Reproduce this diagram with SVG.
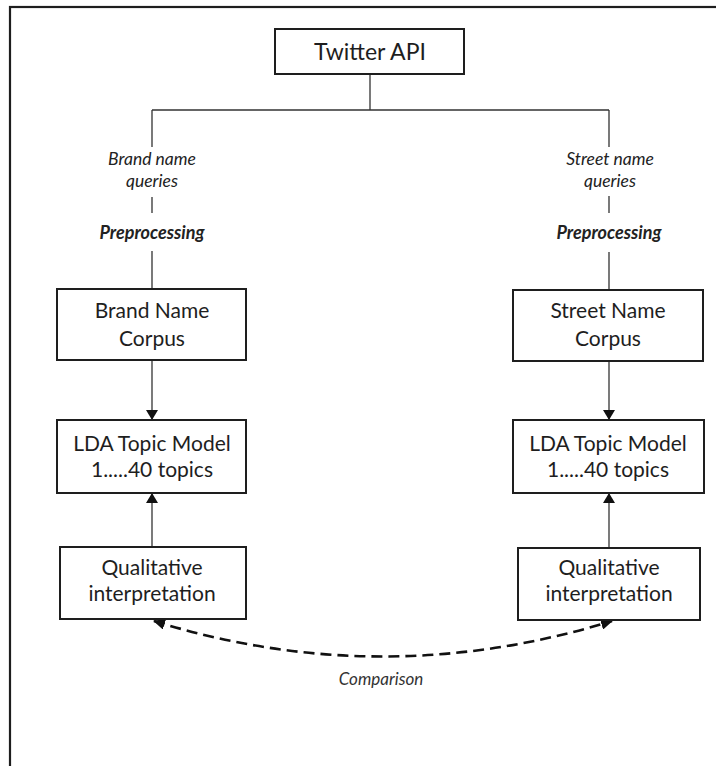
<svg xmlns="http://www.w3.org/2000/svg" width="716" height="766" viewBox="0 0 716 766">
<defs>
<style>
.box{fill:#fff;stroke:#1e1e1e;stroke-width:2}
.t{font-family:Lato,"Open Sans","Liberation Sans",sans-serif;font-size:21px;fill:#1e1e1e;text-anchor:middle}
.big{font-size:23px}
.lab{font-family:Lato,"Open Sans","Liberation Sans",sans-serif;font-size:17.5px;font-style:italic;fill:#222;text-anchor:middle}
.cmp{font-size:17px;fill:#333}
.bold{font-weight:bold;font-size:18px}
.ln{stroke:#333;stroke-width:1.3;fill:none}
.dash{stroke:#111;stroke-width:2.6;fill:none;stroke-dasharray:11 6}
</style>
<marker id="arr" viewBox="0 0 10 12" refX="10" refY="6" markerWidth="10" markerHeight="12" markerUnits="userSpaceOnUse" orient="auto-start-reverse">
<path d="M0,0 L10,6 L0,12 z" fill="#111"/>
</marker>
<marker id="arr2" viewBox="0 0 12 11" refX="11" refY="5.5" markerWidth="12" markerHeight="11" markerUnits="userSpaceOnUse" orient="auto-start-reverse">
<path d="M0,0 L12,5.5 L0,11 z" fill="#111"/>
</marker>
</defs>
<rect width="716" height="766" fill="#fff"/>
<rect x="10" y="7" width="720" height="775" fill="none" stroke="#1e1e1e" stroke-width="2.2"/>

<g id="connectors">
<path class="ln" d="M370,74 V110 M152,110 H609 M152,110 V147 M152,197 V213 M152,251 V289 M609,110 V147 M609,196 V213 M609,252 V290"/>
<line class="ln" x1="152" y1="360" x2="152" y2="420" marker-end="url(#arr)"/>
<line class="ln" x1="609" y1="361" x2="609" y2="420" marker-end="url(#arr)"/>
<line class="ln" x1="152" y1="547" x2="152" y2="493" marker-end="url(#arr)"/>
<line class="ln" x1="609" y1="548" x2="609" y2="493" marker-end="url(#arr)"/>
<path class="dash" d="M154,621 Q382,692 612,621" marker-start="url(#arr2)" marker-end="url(#arr2)"/>
<text class="lab" x="152" y="165">Brand name</text>
<text class="lab" x="152" y="187">queries</text>
<text class="lab bold" x="152" y="239">Preprocessing</text>
<text class="lab" x="610" y="165">Street name</text>
<text class="lab" x="610" y="187">queries</text>
<text class="lab bold" x="609" y="239">Preprocessing</text>
<text class="lab cmp" x="381" y="685">Comparison</text>
</g>

<g id="twitter">
<rect class="box" x="275" y="29" width="189" height="45"/>
<text class="t big" x="370" y="60">Twitter API</text>
</g>

<g id="brand-corpus">
<rect class="box" x="57" y="289" width="189" height="71"/>
<text class="t" x="152" y="318">Brand Name</text>
<text class="t" x="152" y="346">Corpus</text>
</g>
<g id="street-corpus">
<rect class="box" x="513" y="290" width="190" height="71"/>
<text class="t" x="608" y="318">Street Name</text>
<text class="t" x="608" y="346">Corpus</text>
</g>

<g id="brand-lda">
<rect class="box" x="57" y="420" width="189" height="73"/>
<text class="t" x="152" y="451">LDA Topic Model</text>
<text class="t" x="152" y="477">1.....40 topics</text>
</g>
<g id="street-lda">
<rect class="box" x="513" y="420" width="191" height="73"/>
<text class="t" x="608" y="451">LDA Topic Model</text>
<text class="t" x="608" y="477">1.....40 topics</text>
</g>

<g id="brand-qual">
<rect class="box" x="60" y="547" width="186" height="72"/>
<text class="t" x="152" y="575">Qualitative</text>
<text class="t" x="152" y="601">interpretation</text>
</g>
<g id="street-qual">
<rect class="box" x="518" y="548" width="182" height="72"/>
<text class="t" x="609" y="575">Qualitative</text>
<text class="t" x="609" y="601">interpretation</text>
</g>
</svg>
